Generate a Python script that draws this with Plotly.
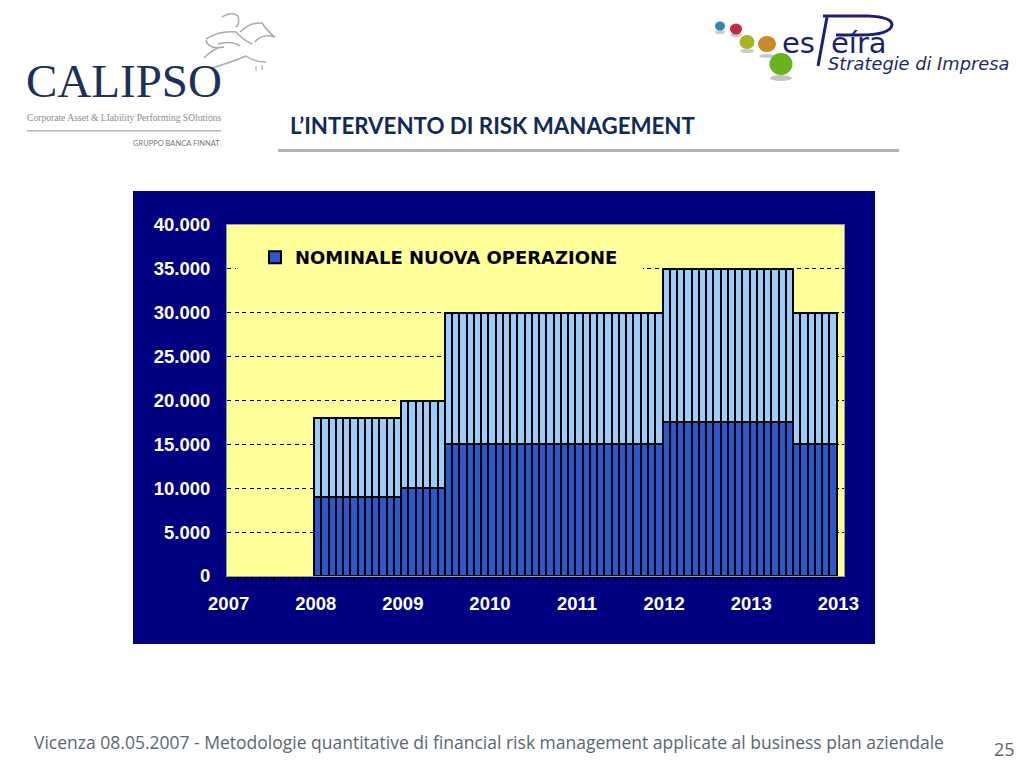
import plotly.graph_objects as go

tick_values = [0, 5000, 10000, 15000, 20000, 25000, 30000, 35000, 40000]
tick_labels = ["0", "5.000", "10.000", "15.000", "20.000", "25.000", "30.000", "35.000", "40.000"]
year_labels = ["2007", "", "", "", "", "", "", "", "", "", "", "",
               "2008", "", "", "", "", "", "", "", "", "", "", "",
               "2009", "", "", "", "", "", "", "", "", "", "", "",
               "2010", "", "", "", "", "", "", "", "", "", "", "",
               "2011", "", "", "", "", "", "", "", "", "", "", "",
               "2012", "", "", "", "", "", "", "", "", "", "", "",
               "2013", "", "", "", "", "", "", "", "", "", "", "",
               "2013"]
periods = list(range(85))
# None = no bar drawn for that period
lower_values = [None, None, None, None, None, None, None, None, None, None, None, None,
                9000, 9000, 9000, 9000, 9000, 9000, 9000, 9000, 9000, 9000, 9000, 9000,
                10000, 10000, 10000, 10000, 10000, 10000,
                15000, 15000, 15000, 15000, 15000, 15000, 15000, 15000, 15000, 15000,
                15000, 15000, 15000, 15000, 15000, 15000, 15000, 15000, 15000, 15000,
                15000, 15000, 15000, 15000, 15000, 15000, 15000, 15000, 15000, 15000,
                17500, 17500, 17500, 17500, 17500, 17500, 17500, 17500, 17500,
                17500, 17500, 17500, 17500, 17500, 17500, 17500, 17500, 17500,
                15000, 15000, 15000, 15000, 15000, 15000, None]
upper_values = [None, None, None, None, None, None, None, None, None, None, None, None,
                9000, 9000, 9000, 9000, 9000, 9000, 9000, 9000, 9000, 9000, 9000, 9000,
                10000, 10000, 10000, 10000, 10000, 10000,
                15000, 15000, 15000, 15000, 15000, 15000, 15000, 15000, 15000, 15000,
                15000, 15000, 15000, 15000, 15000, 15000, 15000, 15000, 15000, 15000,
                15000, 15000, 15000, 15000, 15000, 15000, 15000, 15000, 15000, 15000,
                17500, 17500, 17500, 17500, 17500, 17500, 17500, 17500, 17500,
                17500, 17500, 17500, 17500, 17500, 17500, 17500, 17500, 17500,
                15000, 15000, 15000, 15000, 15000, 15000, None]

L, R, T, B = 227, 844, 225, 576
W, H = 1024, 768
YELLOW = "#ffff99"


def px(x):
    return (x - L) / (R - L)


def py(y):
    return (B - y) / (B - T)


def path(d):
    """Decorative page furniture: 'x,y' pairs in page pixels -> paper coords."""
    out = []
    for tok in d.split():
        if "," in tok:
            a, b = tok.split(",")
            out.append(f"{px(float(a)):.5f},{py(float(b)):.5f}")
        else:
            out.append(tok)
    return " ".join(out)


def rect(x0, y0, x1, y1, color, layer="below"):
    return dict(type="rect", xref="paper", yref="paper", x0=px(x0), x1=px(x1), y0=py(y0), y1=py(y1),
                fillcolor=color, line_width=0, layer=layer)


def circle(cx, cy, rx, ry, color, layer="below"):
    return dict(type="circle", xref="paper", yref="paper", x0=px(cx - rx), x1=px(cx + rx),
                y0=py(cy - ry), y1=py(cy + ry), fillcolor=color, line_width=0, layer=layer)


def stroke(d, color, width):
    return dict(type="path", xref="paper", yref="paper", path=path(d), line=dict(color=color, width=width),
                layer="below")


def text(x, y, s, size, color, family, anchor="left"):
    return dict(xref="paper", yref="paper", x=px(x), y=py(y), text=s, showarrow=False, xanchor=anchor,
                yanchor="middle", font=dict(size=size, color=color, family=family), borderpad=0)


NAVY = "#1b3157"
GRAY = "#a9abaf"
ESP = "#1b1f7a"
FOOT = "#5a6672"
shapes = [
    rect(133, 191, 875, 644, "#000080"),
    rect(L, T, R, B, YELLOW),
    # legend background hides the 35.000 gridline (no bar reaches this band)
    rect(236, 262, 643, 276, YELLOW, layer="above"),
    rect(278, 149, 899, 152, "#b3b3b3"),
    rect(27, 130, 221, 131.5, "#b5b5b5"),
    # rider of the Calipso logo
    stroke("M 222,17 Q 232,11 238,16 Q 240,24 236,27", GRAY, 1.5),
    stroke("M 206,39 Q 220,30 236,32 Q 243,40 252,44", GRAY, 1.5),
    stroke("M 240,32 Q 250,22 262,23 Q 268,32 275,37 Q 262,33 255,42", GRAY, 1.5),
    stroke("M 204,58 Q 216,46 224,47 Q 208,50 206,40", GRAY, 1.5),
    stroke("M 212,68 Q 232,62 246,56 Q 254,62 266,62", GRAY, 1.5),
    stroke("M 218,44 Q 232,40 240,46", GRAY, 1.5),
    stroke("M 256,66 L 256,71 M 262,65 L 262,70", GRAY, 1.2),
    # esPeira logo
    circle(720, 32, 5, 2, "#c9c9c9"),
    circle(736, 35, 6, 2, "#c9c9c9"),
    circle(747, 51, 7, 2, "#c9c9c9"),
    circle(767, 56, 8, 2, "#c9c9c9"),
    circle(781, 78, 11, 3, "#c4c4c4"),
    circle(720, 26, 5, 4.5, "#2e86b8"),
    circle(736, 29, 6, 5.5, "#c42a40"),
    circle(747, 42, 7.5, 7, "#a8b422"),
    circle(767, 44, 9, 8, "#c98a2a"),
    circle(781, 64, 11.5, 11, "#69b31f"),
    stroke("M 827,17 L 818,66", ESP, 3),
    stroke("M 823,16 L 868,16 Q 892,17 892,25 Q 890,35 860,35 L 836,35", ESP, 3),
]
annotations = [
    text(289, 125, "<b>L’INTERVENTO DI RISK MANAGEMENT</b>", 22.3, "#102a5c", "Lato"),
    text(25, 81, "CALIPSO", 47, NAVY, "Liberation Serif"),
    text(26, 117, "Corporate Asset &amp; LIability Performing SOlutions", 9.6, "#8c8c8c", "Liberation Serif"),
    text(221, 143, "GRUPPO BANCA FINNAT", 7.5, "#777777", "Lato", anchor="right"),
    text(781, 43, "es", 29, ESP, "DejaVu Sans"),
    text(830, 43, "eíra", 29, ESP, "DejaVu Sans"),
    text(827, 63, "<i>Strategie di Impresa</i>", 17.8, "#1b2a6a", "DejaVu Sans"),
    text(33, 742, "Vicenza 08.05.2007 - Metodologie quantitative di financial risk management applicate al business plan aziendale",
         17.5, FOOT, "Open Sans"),
    text(993, 749, "25", 18, FOOT, "Open Sans"),
]

fig = go.Figure()
fig.add_bar(x=periods, y=lower_values, name="NOMINALE NUOVA OPERAZIONE",
            marker=dict(color="#2f57cc", line=dict(color="#000000", width=2)))
fig.add_bar(x=periods, y=upper_values, showlegend=False,
            marker=dict(color="#9dcbfa", line=dict(color="#000000", width=2)))

fig.update_layout(
    width=W, height=H, autosize=False, barmode="stack", bargap=0,
    margin=dict(l=L, r=W - R, t=T, b=H - B, pad=0),
    paper_bgcolor="#ffffff", plot_bgcolor=YELLOW,
    font=dict(family="Liberation Sans"),
    shapes=shapes, annotations=annotations,
    showlegend=True,
    legend=dict(x=px(255), y=py(239), xanchor="left", yanchor="top", bgcolor="rgba(0,0,0,0)", borderwidth=0,
                itemclick=False, font=dict(family="DejaVu Sans", size=18, color="#000000", weight="bold"),
                itemwidth=30),
)
fig.update_xaxes(range=[-0.5, 84.5], tickmode="array", tickvals=periods, ticktext=year_labels,
                 ticks="outside", ticklen=4, tickcolor="#000000", tickwidth=2,
                 tickangle=0, ticklabelstandoff=7, ticklabelshift=-2, showgrid=False, zeroline=False,
                 showline=True, linecolor="#9a9a9a", linewidth=1, mirror=True,
                 tickfont=dict(family="Liberation Sans", size=18.5, color="#ffffff", weight="bold"))
fig.update_yaxes(range=[0, 40000], tickmode="array", tickvals=tick_values, ticktext=tick_labels,
                 ticks="", ticklabelstandoff=12, showgrid=True, gridcolor="#000000", griddash="4px,3.5px", gridwidth=1,
                 zeroline=False, showline=True, linecolor="#9a9a9a", linewidth=1, mirror=True,
                 tickfont=dict(family="Liberation Sans", size=18.5, color="#ffffff", weight="bold"))

fig.write_html("out.html", config=dict(displayModeBar=False),
               post_script="document.body.style.margin='0';document.body.style.overflow='hidden';")
